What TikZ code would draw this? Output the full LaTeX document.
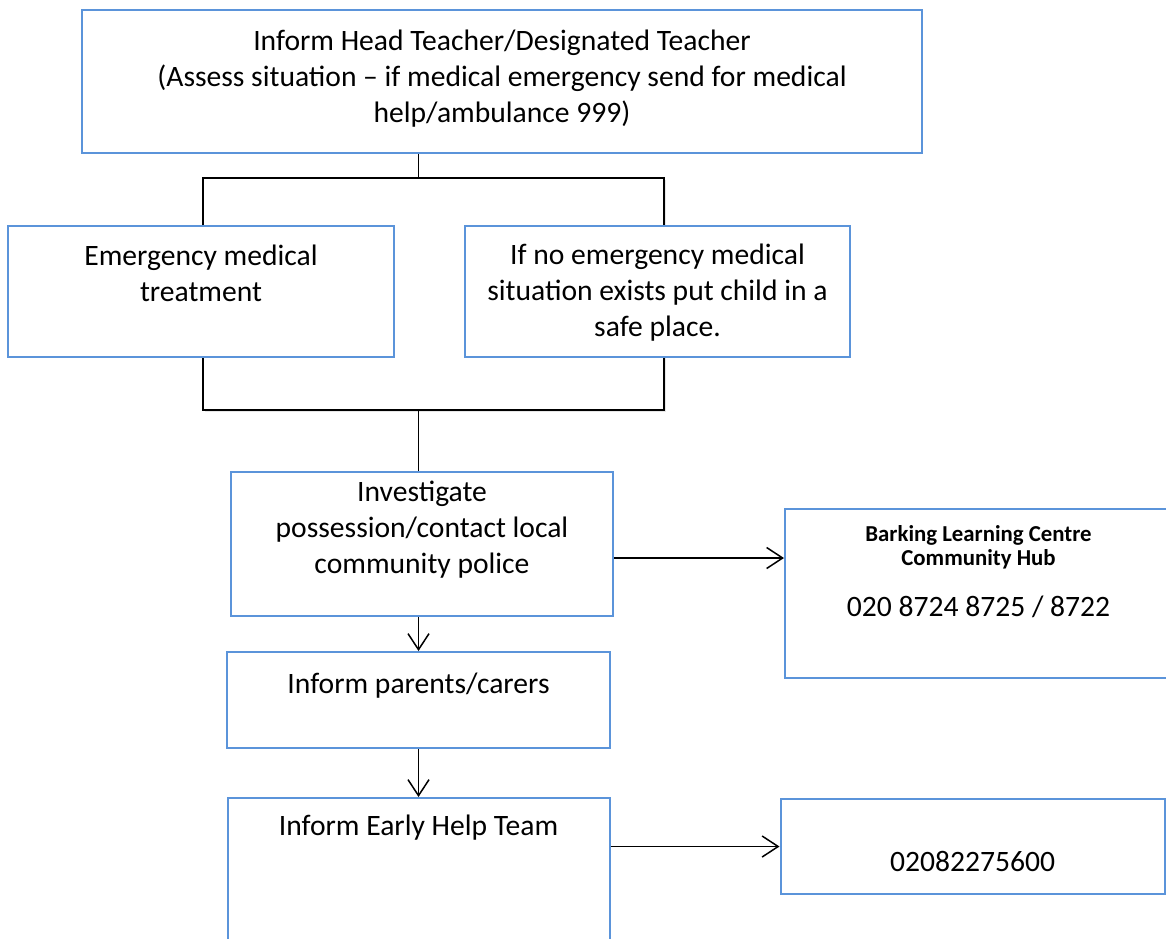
\documentclass[tikz,border=0pt]{standalone}
\usepackage{fontspec}
\setmainfont{Carlito}
\usepackage{tikz}
\usetikzlibrary{arrows.meta,positioning,shadows}
\definecolor{boxblue}{RGB}{91,148,218}

\begin{document}
\begin{tikzpicture}[
		box/.style={draw=boxblue, line width=1pt, fill=white, align=center, inner sep=2pt,
			font=\fontsize{14.8}{18}\selectfont, text height=0pt, text depth=0pt},
		splitframe/.style={draw=black, line width=0.75pt, fill=white,
			drop shadow={opacity=0.2, shadow xshift=1pt, shadow yshift=-1.2pt}},
		arr/.style={-{Straight Barb[length=8pt, width=10.5pt]}, line width=0.75pt},
		link/.style={line width=0.75pt}
	]
	\useasboundingbox (0,0) rectangle (583pt,-469pt);
	\clip (0,0) rectangle (583pt,-469pt);

	\node[box, minimum width=420pt, minimum height=71.5pt, text height=40.5pt] (head) at (251pt,-40.75pt)
		{Inform Head Teacher/Designated Teacher\\(Assess situation – if medical emergency send for medical\\help/ambulance 999)};

	\node[splitframe, minimum width=230.5pt, minimum height=116pt] (split) at (216.75pt,-147pt) {};
	\node[box, minimum width=193pt, minimum height=65.5pt, text height=9.5pt] (med) at (100.5pt,-145.75pt)
		{Emergency medical\\treatment};
	\node[box, minimum width=192.5pt, minimum height=65.5pt, text height=44.5pt] (safe) at (328.75pt,-145.75pt)
		{If no emergency medical\\situation exists put child in a\\safe place.};

	\node[box, minimum width=191pt, minimum height=72pt, text height=29pt] (inv) at (211pt,-272pt)
		{Investigate\\possession/contact local\\community police};
	\node[box, minimum width=191.5pt, minimum height=48pt, text depth=7pt, below=17pt of inv, xshift=-1.75pt] (par)
		{Inform parents/carers};
	\node[box, minimum width=191pt, minimum height=84pt, text depth=47pt, below=24pt of par] (early)
		{Inform Early Help Team};

	\node[box, minimum width=193.5pt, minimum height=84.5pt, text height=22.5pt, right=85pt of inv, yshift=-24.75pt] (hub)
		{\textbf{\fontsize{11.4}{12.5}\selectfont Barking Learning Centre}\\[-6pt]
		\textbf{\fontsize{11.4}{12.5}\selectfont Community Hub}\\[7.5pt]
		020 8724 8725 / 8722};
	\node[box, minimum width=192pt, minimum height=47.5pt, text height=24.5pt, right=84.5pt of early, yshift=17.75pt] (num)
		{02082275600};

	\draw[link] (head.south -| par.north) -- (split.north -| par.north);
	\draw[link] (split.south -| par.north) -- (inv.north -| par.north);
	\draw[arr] (inv.south -| par.north) -- (par.north);
	\draw[arr] (par) -- (early);
	\draw[arr] ([yshift=-7pt]inv.east) -- ([yshift=-7pt]inv.east -| hub.west);
	\draw[arr] (early.east |- num.west) -- (num.west);
\end{tikzpicture}
\end{document}
